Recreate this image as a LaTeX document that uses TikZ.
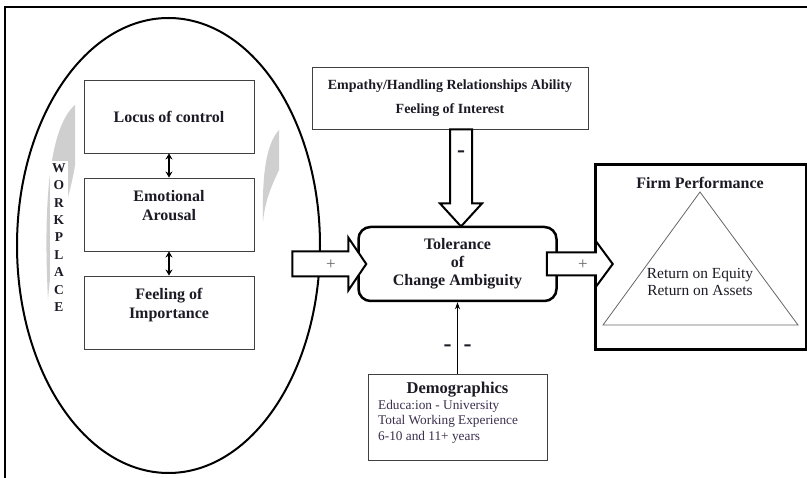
\documentclass[tikz,border=0pt]{standalone}
\usepackage{fontspec}
\setmainfont{Liberation Serif}
\usetikzlibrary{positioning,calc,arrows.meta}

\definecolor{inkdark}{HTML}{1C1A24}
\definecolor{inkplum}{HTML}{3B2E4C}
\definecolor{swoosh}{HTML}{CFCFCF}

\begin{document}
\begin{tikzpicture}[x=1pt,y=-1pt,
  innerbox/.style={draw=black!75, line width=0.9pt, minimum width=170pt, minimum height=73pt,
    align=center, text=inkdark, font=\bfseries\fontsize{16}{19}\selectfont},
  blockarrow/.style={draw, line width=2pt, fill=white, line join=miter},
  twohead/.style={<->, >={Stealth[length=6pt,width=7pt]}, line width=1.2pt},
  signlabel/.style={font=\fontsize{17}{17}\selectfont, text=black!60},
  minuslabel/.style={font=\bfseries\fontsize{24}{24}\selectfont, text=inkdark}]

\useasboundingbox (0,0) rectangle (807,478);

% Frame
\draw[line width=1.4pt] (5,478) -- (5,7) -- (807,7);

% Workplace ellipse with grey swooshes
\fill[swoosh] (75,105) -- (75,165) .. controls (70,200) and (52,240) .. (48,300)
  .. controls (44,220) and (46,130) .. (75,105);
\fill[swoosh] (279,130) -- (279,170) .. controls (272,185) and (265,200) .. (263,222)
  .. controls (262,180) and (265,145) .. (279,130);
\draw[line width=2pt] (168.5,245.5) ellipse [x radius=151.5, y radius=227.5];

\node[fill=white, inner sep=2pt, align=center, text=inkdark,
  font=\bfseries\fontsize{13.5}{17.4}\selectfont] (wplabel) at (59,237.5)
  {W\\O\\R\\K\\P\\L\\A\\C\\E};

% Workplace factors
\node[innerbox] (locus) at (169,116.5) {Locus of control};
\node[innerbox] (arousal) at (169,214.5) {Emotional\\Arousal\\~};
\node[innerbox] (importance) at (169,312.5) {Feeling of\\Importance\\~};

\draw[twohead] (locus.south) -- (arousal.north);
\draw[twohead] (arousal.south) -- (importance.north);

% Central construct
\node[draw, line width=2.5pt, rounded corners=12pt, minimum width=198pt, minimum height=74pt,
  align=center, text=inkdark, font=\bfseries\fontsize{16}{18}\selectfont]
  (tolerance) at (457.5,264) {Tolerance\\of\\Change Ambiguity};

% Empathy
\node[draw=black!75, line width=0.9pt, minimum width=276pt, minimum height=62pt,
  align=center, text=inkdark, font=\bfseries\fontsize{14}{24}\selectfont]
  (empathy) at (450,98) {Empathy/Handling Relationships Ability\\Feeling of Interest};

% Firm performance
\node[draw, line width=3pt, minimum width=211pt, minimum height=185pt] (firm) at (700.5,257.5) {};
\node[text=inkdark, font=\bfseries\fontsize{16}{18}\selectfont] (firmtitle) at (700,183) {Firm Performance};
\draw[black!60, line width=0.8pt] (700,192) -- (798,325) -- (603,325) -- cycle;
\node[align=center, text=inkdark, font=\fontsize{15.4}{17}\selectfont] (returns) at (700,281.5)
  {Return on Equity\\Return on Assets};

% Demographics
\node[draw=black!75, line width=0.9pt, minimum width=179pt, minimum height=86pt] (demo) at (457.5,417) {};
\node[text=inkdark, font=\bfseries\fontsize{16.5}{18}\selectfont] (demotitle) at (457.5,390) {Demographics};
\node[anchor=north west, align=left, inner sep=0pt, text=inkplum, font=\fontsize{13.3}{15.5}\selectfont]
  (demolines) at (378,400) {Educa:ion - University\\Total Working Experience\\6-10 and 11+ years};

% Block arrows
\draw[blockarrow] (empathy.south) -- ++(22,0) -- ++(0,74) -- ++(10,0) -- ++(-21,23)
  -- ++(-21,-23) -- ++(10,0) -- cycle;
\node[minuslabel] (minusone) at (461,154) {-};

\coordinate (lefttip) at ($(tolerance.west)+(9,0)$);
\draw[blockarrow] (lefttip) ++(-74,-12.5) -- ++(56,0) -- ++(0,-14) -- (lefttip)
  -- ++(-18,26.5) -- ++(0,-14) -- ++(-56,0) -- cycle;
\node[signlabel] (plusleft) at (331,264.5) {+};

\draw[blockarrow] (tolerance.east) ++(-11,-11.5) -- ++(49,0) -- ++(0,-11.5) -- ++(17,23)
  -- ++(-17,23) -- ++(0,-11.5) -- ++(-49,0) -- cycle;
\node[signlabel] (plusright) at (583,264.5) {+};

% Demographics link
\draw[-{Stealth[length=7pt,width=5pt]}, line width=0.9pt] (demo.north) -- (demo.north |- tolerance.south);
\node[minuslabel] (minustwo) at (457.5,348) {-\hspace{12pt}-};

\end{tikzpicture}
\end{document}
